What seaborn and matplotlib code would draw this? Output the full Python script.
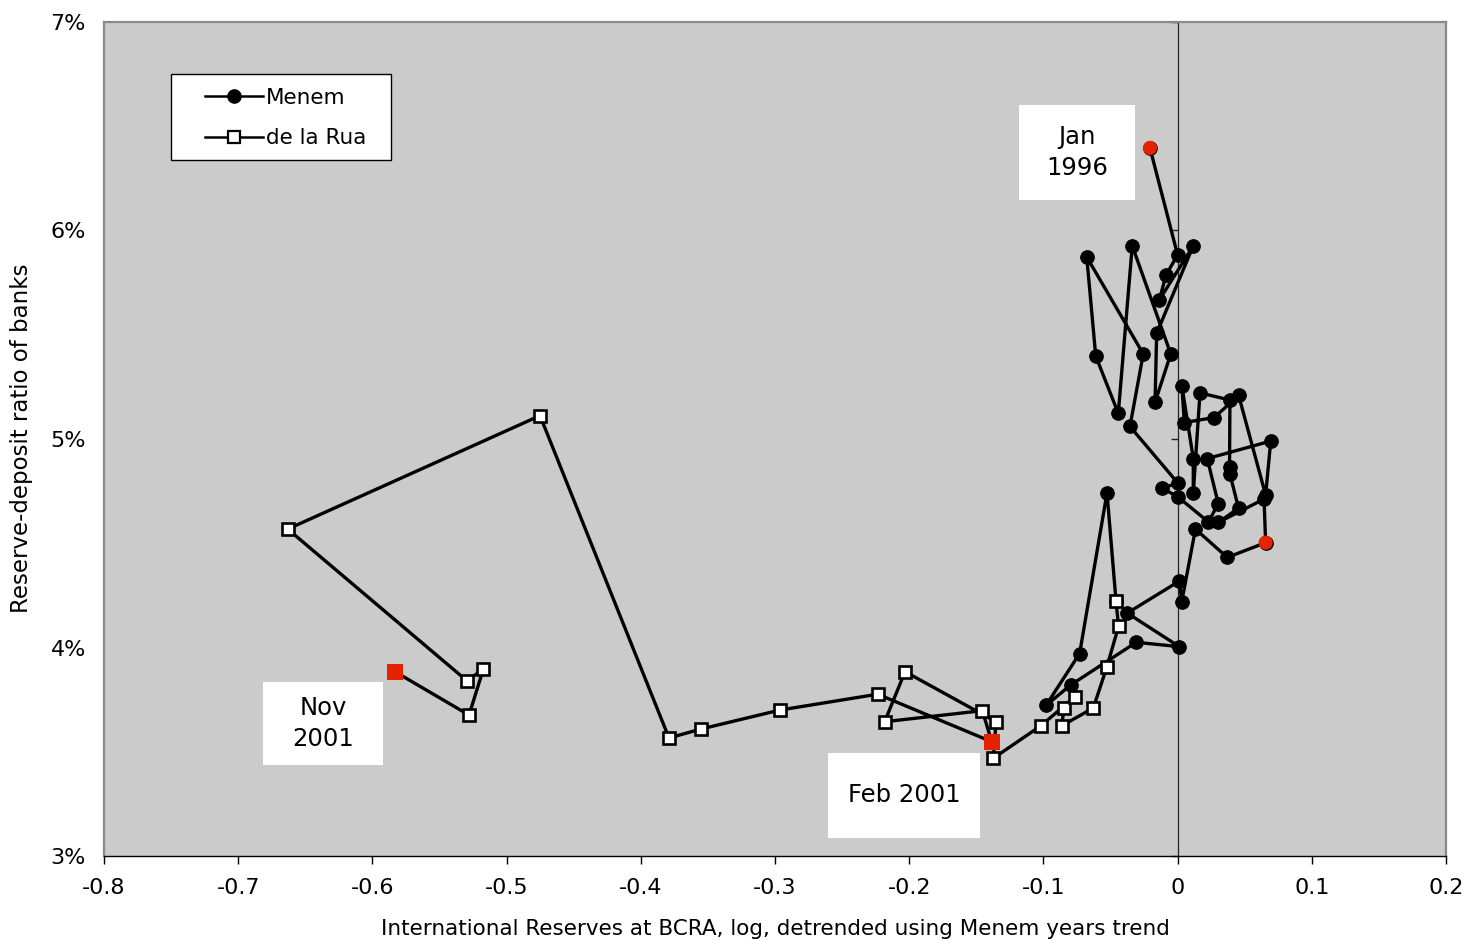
import numpy as np
import pandas as pd
import matplotlib
matplotlib.use("Agg")
import matplotlib.pyplot as plt
from matplotlib.lines import Line2D
from matplotlib.patches import Rectangle
from matplotlib.ticker import FuncFormatter
import seaborn as sns

# ---------------- data ----------------
menem_x = [-0.0206, 0.0000, -0.0086, -0.0136, 0.0117, -0.0156, -0.0168, -0.0051,
           -0.0338, -0.0442, -0.0610, -0.0677, -0.0256, -0.0355, 0.0003, -0.0118,
           0.0001, 0.0230, 0.0303, 0.0221, 0.0694, 0.0656, 0.0455, 0.0273,
           0.0050, 0.0032, 0.0117, 0.0117, 0.0167, 0.0390, 0.0387, 0.0390,
           0.0454, 0.0303, 0.0644, 0.0656, 0.0370, 0.0133, 0.0031, 0.0014,
           -0.0375, 0.0013, -0.0308, -0.0797, -0.0981, -0.0730, -0.0526, -0.0459]
menem_y = [6.396, 5.883, 5.787, 5.667, 5.927, 5.507, 5.176, 5.408,
           5.927, 5.123, 5.398, 5.873, 5.408, 5.060, 4.788, 4.765,
           4.723, 4.602, 4.690, 4.906, 4.990, 4.731, 5.209, 5.103,
           5.079, 5.254, 4.906, 4.743, 5.221, 5.187, 4.868, 4.832,
           4.668, 4.600, 4.712, 4.503, 4.432, 4.568, 4.220, 4.319,
           4.165, 4.004, 4.025, 3.820, 3.722, 3.971, 4.742, 4.223]
menem_red = [0, 35]

delarua_x = [-0.0459, -0.0440, -0.0528, -0.0628, -0.0864, -0.0846, -0.0765, -0.1020,
             -0.1373, -0.1353, -0.2031, -0.2183, -0.1455, -0.1385, -0.2235, -0.2963,
             -0.3551, -0.3790, -0.4751, -0.6631, -0.5297, -0.5174, -0.5280, -0.5832]
delarua_y = [4.223, 4.101, 3.905, 3.710, 3.624, 3.710, 3.764, 3.624,
             3.469, 3.644, 3.884, 3.644, 3.697, 3.548, 3.776, 3.700,
             3.609, 3.566, 5.112, 4.568, 3.841, 3.895, 3.676, 3.884]
delarua_red = [13, 23]

x_ticks = [-0.8, -0.7, -0.6, -0.5, -0.4, -0.3, -0.2, -0.1, 0.0, 0.1, 0.2]
y_ticks = [3, 4, 5, 6, 7]

labels = ["Menem", "de la Rua"]
x_label = "International Reserves at BCRA, log, detrended using Menem years trend"
y_label = "Reserve-deposit ratio of banks"
notes = [("Jan\n1996", (1019, 105, 1135, 200)),
         ("Nov\n2001", (263, 682, 383, 765)),
         ("Feb 2001", (828, 753, 980, 838))]

# ---------------- styling ----------------
W, H = 1469, 941
plt.rcParams['font.family'] = ['DejaVu Sans']
BG = '#cbcbcb'
RED = '#e52200'
FS = 15.5
LW = 2.4

fig = plt.figure(figsize=(W / 100, H / 100), dpi=100)
fig.patch.set_facecolor('white')
ax = fig.add_axes([104 / W, 1 - 856 / H, (1446 - 104) / W, (856 - 22) / H])
ax.set_facecolor(BG)

df_m = pd.DataFrame({"x": menem_x, "y": menem_y})
df_d = pd.DataFrame({"x": delarua_x, "y": delarua_y})

sns.lineplot(data=df_m, x="x", y="y", sort=False, estimator=None, ax=ax,
             color='black', lw=LW, marker='o', markersize=9.8,
             markerfacecolor='black', markeredgecolor='black', zorder=3)
sns.scatterplot(data=df_m.iloc[menem_red], x="x", y="y", ax=ax, color=RED,
                marker='o', s=104, edgecolor='none', zorder=4)
sns.lineplot(data=df_d, x="x", y="y", sort=False, estimator=None, ax=ax,
             color='black', lw=LW, marker='s', markersize=9.2,
             markerfacecolor='white', markeredgecolor='black',
             markeredgewidth=1.9, zorder=5)
sns.scatterplot(data=df_d.iloc[delarua_red], x="x", y="y", ax=ax, color=RED,
                marker='s', s=135, edgecolor='none', zorder=6)

ax.set_xlim(-0.8, 0.2)
ax.set_ylim(3, 7)
ax.set_xticks(x_ticks)
ax.set_yticks(y_ticks)


def fmt_x(v, pos):
    v = round(v, 1)
    if abs(v) < 1e-9:
        return "0"
    return f"{v:g}".replace("\u2212", "-")


ax.xaxis.set_major_formatter(FuncFormatter(fmt_x))

# spines
for s in ['top', 'right']:
    ax.spines[s].set_color('#8a8a8a')
    ax.spines[s].set_linewidth(1.6)
ax.spines['bottom'].set_color('black')
ax.spines['bottom'].set_linewidth(1.0)
ax.spines['left'].set_position(('data', 0))
ax.spines['left'].set_color('#222222')
ax.spines['left'].set_linewidth(0.9)
ax.spines['left'].set_zorder(1)
ax.tick_params(axis='x', direction='out', length=6, width=1, color='black',
               labelsize=16, pad=10)
ax.tick_params(axis='y', direction='out', length=5, width=1, color='#222222',
               labelleft=False)

sec = ax.secondary_yaxis(0.0)
sec.set_yticks(y_ticks)
sec.yaxis.set_major_formatter(FuncFormatter(lambda v, p: f"{int(round(v))}%"))
sec.tick_params(axis='y', length=0, labelsize=16, pad=13)
sec.spines['left'].set_color('#8a8a8a')
sec.spines['left'].set_linewidth(1.6)

ax.set_xlabel(x_label, fontsize=FS, labelpad=15)
ax.set_ylabel("")
fig.text(22 / W, 1 - 438 / H, y_label, rotation=90, fontsize=16.5,
         ha='center', va='center')

# legend: white box drawn separately, entries placed inside it
ax.add_patch(Rectangle((171 / W, 1 - 160 / H), (391 - 171) / W, (160 - 74) / H,
                       transform=fig.transFigure, facecolor='white',
                       edgecolor='black', linewidth=1.0, zorder=7))
handles = [Line2D([], [], color='black', lw=1.8, marker='o', markersize=9.5,
                  markerfacecolor='black', markeredgecolor='black'),
           Line2D([], [], color='black', lw=1.8, marker='s', markersize=8.5,
                  markerfacecolor='white', markeredgecolor='black',
                  markeredgewidth=1.6)]
leg = ax.legend(handles, labels, loc='upper left',
                bbox_to_anchor=(205 / W, 1 - 88 / H),
                bbox_transform=fig.transFigure,
                borderaxespad=0, borderpad=0, frameon=False, fontsize=FS,
                handlelength=2.7, handletextpad=0.12,
                labelspacing=0.95, numpoints=1)
leg.set_zorder(8)

# annotation boxes
for txt, (x0, y0, x1, y1) in notes:
    fig.add_artist(Rectangle((x0 / W, 1 - y1 / H), (x1 - x0) / W, (y1 - y0) / H,
                             transform=fig.transFigure, facecolor='white',
                             edgecolor='none', zorder=10))
    fig.text((x0 + x1) / 2 / W, 1 - (y0 + y1) / 2 / H, txt, ha='center',
             va='center', fontsize=17.5, linespacing=1.35, zorder=11)

fig.savefig("out.png", dpi=100, facecolor='white')
